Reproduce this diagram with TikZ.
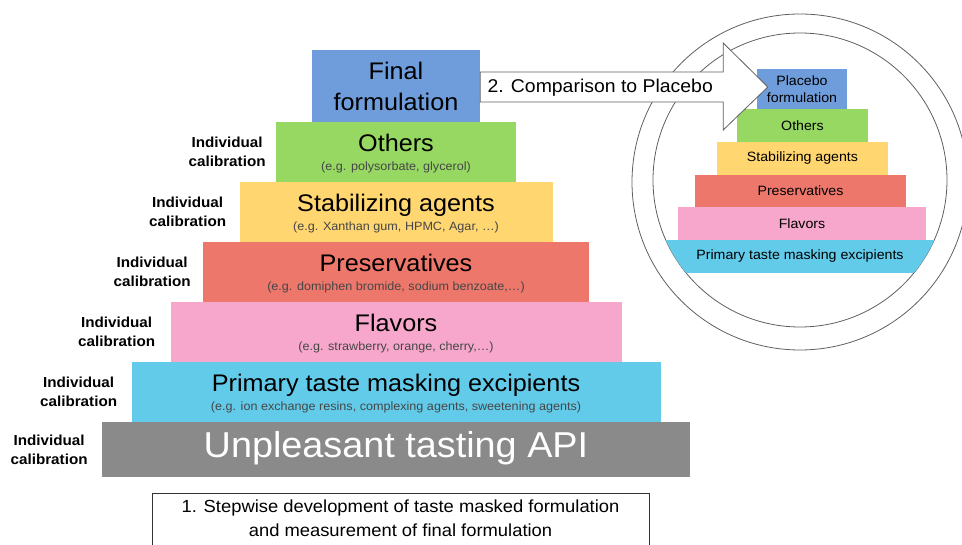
\documentclass[tikz,border=0pt]{standalone}
\usepackage{fontspec}
\setmainfont{Liberation Sans}[FakeStretch=1.05]
\usepackage{tikz}
\usetikzlibrary{positioning, calc}
\definecolor{cFin}{RGB}{111, 157, 220}
\definecolor{cOth}{RGB}{150, 216, 98}
\definecolor{cSta}{RGB}{255, 214, 112}
\definecolor{cPre}{RGB}{237, 119, 107}
\definecolor{cFla}{RGB}{246, 167, 203}
\definecolor{cPri}{RGB}{99, 203, 234}
\definecolor{cApi}{RGB}{138, 138, 138}
\definecolor{cLine}{RGB}{95, 95, 95}
\definecolor{cSub}{RGB}{70, 70, 70}
\tikzstyle{Layer}=[rectangle,
		inner sep=0pt,
		minimum height=60pt]
\tikzstyle{Head}=[inner sep=0pt,
		font=\fontsize{24}{30}\selectfont]
\tikzstyle{Sub}=[inner sep=0pt,
		text=cSub,
		font=\fontsize{12}{14}\selectfont]
\tikzstyle{Calib}=[inner sep=0pt,
		align=center,
		font=\bfseries\fontsize{14.5}{19}\selectfont]
\tikzstyle{Mini}=[rectangle,
		inner sep=0pt,
		font=\fontsize{13.5}{16.5}\selectfont]
\tikzstyle{Ring}=[circle,
		draw=cLine,
		line width=0.8pt,
		inner sep=0pt]

\begin{document}
\begin{tikzpicture}[x=1pt,y=-1pt]
  \useasboundingbox (0,0) rectangle (962,545);

  % placebo side
  \node [Ring,minimum size=336pt] (outer) at (800,182) {};
  \node [Ring,minimum size=294pt] (inner) at (800,180) {};
  \node [Mini,fill=cFin,minimum width=90pt,minimum height=40pt,align=center] (plac) at (802,89) {Placebo\\formulation};
  \node [Mini,fill=cOth,minimum width=131pt,minimum height=33pt] (moth) at (802.5,125.5) {Others};
  \node [Mini,fill=cSta,minimum width=171pt,minimum height=33pt] (msta) at (802.5,158.5) {Stabilizing agents};
  \node [Mini,fill=cPre,minimum width=211pt,minimum height=32pt] (mpre) at (800.5,191) {Preservatives};
  \node [Mini,fill=cFla,minimum width=248pt,minimum height=33pt] (mfla) at (802,223.5) {Flavors};
  \begin{scope}
    \clip (inner.center) circle (147pt);
    \node [Mini,fill=cPri,minimum width=300pt,minimum height=33pt] (mpri) at (800,256.5) {Primary taste masking excipients};
  \end{scope}

  % stepwise pyramid
  \node [Layer,fill=cFin,minimum width=168pt,minimum height=72pt,align=center,font=\fontsize{24}{31}\selectfont] (fin) at (396,86) {Final\\formulation};
  \node [Layer,fill=cOth,minimum width=240pt] (oth) at (396,152) {};
  \node [Layer,fill=cSta,minimum width=313pt] (sta) at (396,212) {};
  \node [Layer,fill=cPre,minimum width=386pt] (pre) at (396,272) {};
  \node [Layer,fill=cFla,minimum width=451pt] (fla) at (396,332) {};
  \node [Layer,fill=cPri,minimum width=529pt] (pri) at (396,392) {};
  \node [Layer,fill=cApi,minimum width=588pt,minimum height=55pt] (api) at (396,449.5) {};

  \node [Head,anchor=base] (othH) at (oth.center) {Others};
  \node [Sub,anchor=base] (othS) at ([yshift=-19pt]oth.center) {(e.g. polysorbate, glycerol)};
  \node [Head,anchor=base] (staH) at (sta.center) {Stabilizing agents};
  \node [Sub,anchor=base] (staS) at ([yshift=-19pt]sta.center) {(e.g. Xanthan gum, HPMC, Agar, \dots)};
  \node [Head,anchor=base] (preH) at (pre.center) {Preservatives};
  \node [Sub,anchor=base] (preS) at ([yshift=-19pt]pre.center) {(e.g. domiphen bromide, sodium benzoate,\dots)};
  \node [Head,anchor=base] (flaH) at (fla.center) {Flavors};
  \node [Sub,anchor=base] (flaS) at ([yshift=-19pt]fla.center) {(e.g. strawberry, orange, cherry,\dots)};
  \node [Head,anchor=base] (priH) at (pri.center) {Primary taste masking excipients};
  \node [Sub,anchor=base] (priS) at ([yshift=-19pt]pri.center) {(e.g. ion exchange resins, complexing agents, sweetening agents)};
  \node [inner sep=0pt,anchor=base,text=white,font=\fontsize{36}{40}\selectfont] (apiH) at ([yshift=-8pt]api.center) {Unpleasant tasting API};

  % calibration labels
  \node [Calib,left=10pt of oth] (cal1) {Individual\\calibration};
  \node [Calib,left=13pt of sta] (cal2) {Individual\\calibration};
  \node [Calib,left=12pt of pre] (cal3) {Individual\\calibration};
  \node [Calib,left=15pt of fla] (cal4) {Individual\\calibration};
  \node [Calib,left=14pt of pri] (cal5) {Individual\\calibration};
  \node [Calib,left=14pt of api] (cal6) {Individual\\calibration};

  % step 1 box
  \node [draw=black!80,line width=0.9pt,minimum width=497pt,minimum height=70pt,anchor=north] (stepbox) at (400.5,493) {};
  \node [inner sep=0pt,align=center,font=\fontsize{17.5}{24}\selectfont] (steptxt) at ([yshift=-25pt]stepbox.north) {1. Stepwise development of taste masked formulation\\and measurement of final formulation};

  % comparison arrow
  \draw [draw=cLine,fill=white,line width=0.8pt,line join=miter]
    ($(fin.east)+(0,-14)$) -- ++(243,0) -- ++(0,-29) -- ($(plac.west)+(11,-2)$)
    -- ($(fin.east)+(243,44)$) -- ++(0,-28) -- ($(fin.east)+(0,16)$) -- cycle;
  \node [inner sep=0pt,font=\fontsize{18.5}{20}\selectfont] (cmp) at ($(fin.east)+(120,2)$) {2. Comparison to Placebo};

\end{tikzpicture}
\end{document}
